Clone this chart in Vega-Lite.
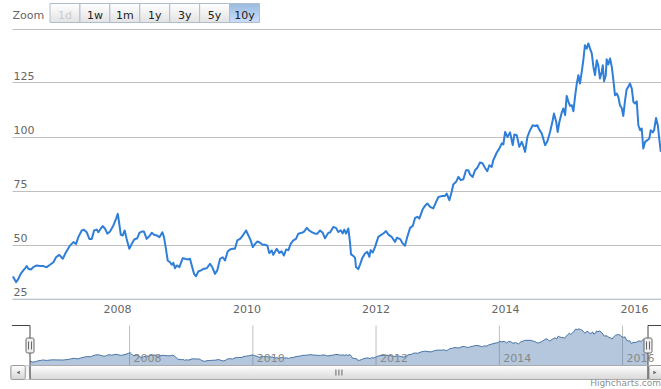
{
  "$schema": "https://vega.github.io/schema/vega-lite/v6.json",
  "width": 661,
  "height": 389,
  "autosize": {"type": "none"},
  "padding": 0,
  "background": "#ffffff",
  "config": {"view": {"stroke": null}, "font": "DejaVu Sans"},
  "title": {"text": "Highcharts.com", "orient": "bottom", "anchor": "end", "frame": "group", "offset": -3, "fontSize": 9, "fontWeight": "normal", "color": "#909090", "baseline": "alphabetic", "dx": 0},
  "datasets": {
    "prices": [
      {"date":"2006-05-21","price":35.2},{"date":"2006-05-28","price":34.4},{"date":"2006-06-09","price":32.6},{"date":"2006-06-22","price":34.1},
      {"date":"2006-07-05","price":36.4},{"date":"2006-07-20","price":38},{"date":"2006-07-30","price":39},{"date":"2006-08-08","price":40},
      {"date":"2006-08-17","price":38.8},{"date":"2006-09-01","price":38.4},{"date":"2006-09-14","price":39.5},{"date":"2006-10-04","price":40.3},
      {"date":"2006-10-22","price":40},{"date":"2006-11-10","price":40},{"date":"2006-11-29","price":39.5},{"date":"2006-12-18","price":40.6},
      {"date":"2007-01-06","price":41.8},{"date":"2007-01-21","price":44.1},{"date":"2007-02-08","price":45.2},{"date":"2007-02-28","price":43.4},
      {"date":"2007-03-18","price":46.4},{"date":"2007-04-10","price":49.5},{"date":"2007-04-29","price":51.1},{"date":"2007-05-14","price":50.3},
      {"date":"2007-05-27","price":53.4},{"date":"2007-06-15","price":56.5},{"date":"2007-06-28","price":56.8},{"date":"2007-07-13","price":55.7},
      {"date":"2007-07-28","price":52.6},{"date":"2007-08-11","price":52.6},{"date":"2007-08-24","price":56.5},{"date":"2007-09-08","price":56.9},
      {"date":"2007-09-17","price":55.7},{"date":"2007-09-30","price":57.3},{"date":"2007-10-12","price":58.5},{"date":"2007-10-25","price":57.3},
      {"date":"2007-11-07","price":55},{"date":"2007-11-22","price":56},{"date":"2007-12-11","price":58.8},{"date":"2007-12-26","price":61.9},
      {"date":"2008-01-05","price":64.2},{"date":"2008-01-12","price":60.3},{"date":"2008-01-22","price":54.5},{"date":"2008-02-02","price":54.2},
      {"date":"2008-02-13","price":56.5},{"date":"2008-02-24","price":52.6},{"date":"2008-03-10","price":48},{"date":"2008-03-24","price":50.3},
      {"date":"2008-04-07","price":52.3},{"date":"2008-04-24","price":52.9},{"date":"2008-05-06","price":55.4},{"date":"2008-05-19","price":56},
      {"date":"2008-06-01","price":56},{"date":"2008-06-16","price":52.6},{"date":"2008-07-01","price":53.8},{"date":"2008-07-15","price":55.4},
      {"date":"2008-07-28","price":54.5},{"date":"2008-08-12","price":54.2},{"date":"2008-08-27","price":53.4},{"date":"2008-09-13","price":55.7},
      {"date":"2008-09-22","price":53.4},{"date":"2008-10-03","price":48},{"date":"2008-10-13","price":42.6},{"date":"2008-10-26","price":41.8},
      {"date":"2008-11-05","price":40.6},{"date":"2008-11-14","price":41.5},{"date":"2008-11-23","price":39},{"date":"2008-12-03","price":40.3},
      {"date":"2008-12-18","price":39.5},{"date":"2009-01-06","price":43.7},{"date":"2009-01-19","price":43.4},{"date":"2009-02-01","price":43.1},
      {"date":"2009-02-16","price":43.4},{"date":"2009-02-26","price":40.3},{"date":"2009-03-11","price":36.4},{"date":"2009-03-22","price":35.3},
      {"date":"2009-04-04","price":37.5},{"date":"2009-04-19","price":38},{"date":"2009-05-06","price":38.8},{"date":"2009-05-22","price":39},
      {"date":"2009-06-09","price":41.1},{"date":"2009-06-22","price":39.5},{"date":"2009-07-07","price":36.4},{"date":"2009-07-20","price":38},
      {"date":"2009-08-05","price":43.4},{"date":"2009-08-20","price":44.1},{"date":"2009-09-02","price":42.6},{"date":"2009-09-17","price":46.8},
      {"date":"2009-09-30","price":47.7},{"date":"2009-10-15","price":48},{"date":"2009-10-28","price":48},{"date":"2009-11-10","price":51.9},
      {"date":"2009-11-26","price":52.6},{"date":"2009-12-14","price":54.5},{"date":"2009-12-30","price":56.5},{"date":"2010-01-12","price":54.2},
      {"date":"2010-01-25","price":51.9},{"date":"2010-02-06","price":48.8},{"date":"2010-02-19","price":50.3},{"date":"2010-03-04","price":51.4},
      {"date":"2010-03-19","price":50.8},{"date":"2010-04-03","price":49.9},{"date":"2010-04-16","price":49.9},{"date":"2010-04-29","price":49.5},
      {"date":"2010-05-10","price":46.1},{"date":"2010-05-24","price":47.2},{"date":"2010-06-02","price":45.2},{"date":"2010-06-21","price":48},
      {"date":"2010-07-06","price":46.1},{"date":"2010-07-19","price":46.8},{"date":"2010-08-01","price":44.9},{"date":"2010-08-13","price":47.7},
      {"date":"2010-08-26","price":47.4},{"date":"2010-09-08","price":50.3},{"date":"2010-09-23","price":51.9},{"date":"2010-10-08","price":52.6},
      {"date":"2010-10-21","price":55},{"date":"2010-11-10","price":55.4},{"date":"2010-11-23","price":56},{"date":"2010-12-08","price":57.7},
      {"date":"2010-12-22","price":56.5},{"date":"2011-01-05","price":55.7},{"date":"2011-01-24","price":55},{"date":"2011-02-06","price":55},
      {"date":"2011-02-21","price":56.5},{"date":"2011-03-08","price":55.4},{"date":"2011-03-21","price":52.9},{"date":"2011-04-09","price":55.4},
      {"date":"2011-04-18","price":55.5},{"date":"2011-05-07","price":58.1},{"date":"2011-05-22","price":57.7},{"date":"2011-06-04","price":55.8},
      {"date":"2011-06-18","price":56.6},{"date":"2011-06-29","price":55.1},{"date":"2011-07-08","price":56.9},{"date":"2011-07-18","price":55.1},
      {"date":"2011-07-31","price":57.4},{"date":"2011-08-09","price":51.2},{"date":"2011-08-15","price":45.4},{"date":"2011-08-28","price":44.7},
      {"date":"2011-09-07","price":43.8},{"date":"2011-09-12","price":39.6},{"date":"2011-09-25","price":38.6},{"date":"2011-10-05","price":40.7},
      {"date":"2011-10-18","price":43.8},{"date":"2011-11-02","price":45.8},{"date":"2011-11-15","price":46.6},{"date":"2011-11-27","price":44.3},
      {"date":"2011-12-04","price":47.4},{"date":"2011-12-16","price":46.3},{"date":"2011-12-29","price":48.9},{"date":"2012-01-16","price":53.5},
      {"date":"2012-01-30","price":54.3},{"date":"2012-02-14","price":55.1},{"date":"2012-02-29","price":56.2},{"date":"2012-03-13","price":54.6},
      {"date":"2012-04-01","price":53.5},{"date":"2012-04-20","price":51.2},{"date":"2012-04-30","price":53.1},{"date":"2012-05-19","price":52.5},
      {"date":"2012-06-02","price":50.5},{"date":"2012-06-15","price":49.4},{"date":"2012-06-28","price":53.5},{"date":"2012-07-14","price":57.7},
      {"date":"2012-07-29","price":58.6},{"date":"2012-08-11","price":62.3},{"date":"2012-08-24","price":62.8},{"date":"2012-09-04","price":62},
      {"date":"2012-09-23","price":66.3},{"date":"2012-10-06","price":67.9},{"date":"2012-10-19","price":69},{"date":"2012-11-04","price":67.4},
      {"date":"2012-11-22","price":66.7},{"date":"2012-12-08","price":69.7},{"date":"2012-12-21","price":72},{"date":"2013-01-09","price":72.4},
      {"date":"2013-01-27","price":72.5},{"date":"2013-02-06","price":73.6},{"date":"2013-02-21","price":70.5},{"date":"2013-03-06","price":74.4},
      {"date":"2013-03-15","price":77.8},{"date":"2013-03-31","price":79},{"date":"2013-04-13","price":81.3},{"date":"2013-04-26","price":79.8},
      {"date":"2013-05-11","price":80.2},{"date":"2013-05-26","price":84.4},{"date":"2013-06-08","price":84.4},{"date":"2013-06-18","price":82.4},
      {"date":"2013-07-03","price":81.3},{"date":"2013-07-16","price":84.4},{"date":"2013-07-29","price":85.5},{"date":"2013-08-13","price":88},
      {"date":"2013-08-28","price":87.5},{"date":"2013-09-10","price":85.5},{"date":"2013-09-23","price":83.9},{"date":"2013-10-05","price":86.7},
      {"date":"2013-10-18","price":85.9},{"date":"2013-10-27","price":89},{"date":"2013-11-16","price":92.6},{"date":"2013-11-30","price":94.4},
      {"date":"2013-12-14","price":96.8},{"date":"2013-12-23","price":96.3},{"date":"2014-01-02","price":102.1},{"date":"2014-01-15","price":99.8},
      {"date":"2014-01-30","price":101.9},{"date":"2014-02-14","price":96},{"date":"2014-02-23","price":100.9},{"date":"2014-03-09","price":100.6},
      {"date":"2014-03-23","price":95.2},{"date":"2014-04-06","price":97.5},{"date":"2014-04-15","price":95.6},{"date":"2014-04-25","price":92.9},
      {"date":"2014-05-08","price":99.8},{"date":"2014-05-23","price":102.9},{"date":"2014-06-07","price":105.2},{"date":"2014-06-20","price":104.9},
      {"date":"2014-07-03","price":105.2},{"date":"2014-07-14","price":103.2},{"date":"2014-07-28","price":101.4},{"date":"2014-08-16","price":96},
      {"date":"2014-08-29","price":97.8},{"date":"2014-09-13","price":102.1},{"date":"2014-09-28","price":107.5},{"date":"2014-10-05","price":110.6},
      {"date":"2014-10-17","price":107.1},{"date":"2014-10-26","price":102.1},{"date":"2014-11-04","price":106.5},{"date":"2014-11-18","price":111.1},
      {"date":"2014-11-27","price":113},{"date":"2014-12-07","price":109.9},{"date":"2014-12-16","price":118.8},{"date":"2014-12-25","price":116.3},
      {"date":"2015-01-04","price":114.2},{"date":"2015-01-14","price":114.5},{"date":"2015-01-23","price":111.7},{"date":"2015-02-01","price":118.3},
      {"date":"2015-02-11","price":124.5},{"date":"2015-02-20","price":128.4},{"date":"2015-03-01","price":124.5},{"date":"2015-03-11","price":129.9},
      {"date":"2015-03-20","price":135.3},{"date":"2015-03-29","price":142.3},{"date":"2015-04-08","price":140.7},{"date":"2015-04-17","price":143.1},
      {"date":"2015-04-27","price":140.7},{"date":"2015-05-07","price":138.4},{"date":"2015-05-16","price":132.2},{"date":"2015-05-25","price":128.4},
      {"date":"2015-06-04","price":135.3},{"date":"2015-06-13","price":132.7},{"date":"2015-06-22","price":126.9},{"date":"2015-07-02","price":129.9},
      {"date":"2015-07-08","price":133},{"date":"2015-07-15","price":125.6},{"date":"2015-07-25","price":128.4},{"date":"2015-07-30","price":135.8},
      {"date":"2015-08-08","price":133.3},{"date":"2015-08-18","price":136.1},{"date":"2015-08-28","price":132.2},{"date":"2015-09-06","price":126},
      {"date":"2015-09-15","price":119.1},{"date":"2015-09-25","price":119.9},{"date":"2015-10-04","price":118.3},{"date":"2015-10-13","price":114.5},
      {"date":"2015-10-23","price":113.2},{"date":"2015-11-01","price":109.5},{"date":"2015-11-11","price":116.8},{"date":"2015-11-20","price":121.9},
      {"date":"2015-11-29","price":123},{"date":"2015-12-09","price":124.5},{"date":"2015-12-19","price":122.2},{"date":"2015-12-28","price":116},
      {"date":"2016-01-06","price":115.3},{"date":"2016-01-16","price":116.3},{"date":"2016-01-25","price":105.2},{"date":"2016-02-04","price":102.9},
      {"date":"2016-02-13","price":103.7},{"date":"2016-02-22","price":94.4},{"date":"2016-03-03","price":97.5},{"date":"2016-03-16","price":98.3},
      {"date":"2016-03-27","price":99.1},{"date":"2016-04-04","price":102.9},{"date":"2016-04-15","price":101.9},{"date":"2016-04-23","price":102.9},
      {"date":"2016-05-04","price":108.6},{"date":"2016-05-14","price":105.2},{"date":"2016-05-23","price":98.3},{"date":"2016-05-31","price":92.9}
    ],
    "buttons": [
      {"label":"1d"},{"label":"1w"},{"label":"1m"},{"label":"1y"},{"label":"3y"},{"label":"5y"},{"label":"10y"}
    ],
    "navTicks": [
      {"tick":"2008-01-01"},{"tick":"2010-01-01"},{"tick":"2012-01-01"},{"tick":"2014-01-01"},{"tick":"2016-01-01"}
    ]
  },
  "resolve": {"scale": {"x": "independent", "y": "independent"}},
  "layer": [
    {
      "data": {"name": "prices"},
      "mark": {"type": "line", "color": "#2f7ed8", "strokeWidth": 2, "strokeJoin": "round"},
      "encoding": {
        "x": {"field": "date", "type": "temporal",
          "scale": {"type": "utc", "domain": [{"year":2006,"month":5,"date":17,"utc":true},{"year":2016,"month":6,"date":1,"utc":true}], "range": [12, 661]},
          "axis": {"values": [{"year":2008,"utc":true},{"year":2010,"utc":true},{"year":2012,"utc":true},{"year":2014,"utc":true},{"year":2016,"utc":true}],
            "format": "%Y", "title": null, "grid": false, "ticks": false, "tickSize": 0, "domainColor": "#C0D0E0", "domainWidth": 1,
            "labelColor": "#666666", "labelFontSize": 11, "labelPadding": 5, "labelBaseline": "top", "offset": -90.5, "labelFlush": false, "labelOverlap": false}},
        "y": {"field": "price", "type": "quantitative",
          "scale": {"domain": [25, 150], "range": [298.5, 28.5], "nice": false, "zero": false},
          "axis": {"values": [25, 50, 75, 100, 125, 150], "title": null, "domain": false, "ticks": false, "tickSize": 0,
            "grid": true, "gridColor": "#C0C0C0", "gridWidth": 1,
            "labelAlign": "left", "labelPadding": -13, "labelBaseline": "alphabetic", "labelOffset": -3,
            "labelColor": "#666666", "labelFontSize": 11, "labelFlush": false, "labelOverlap": false,
            "labelExpr": "datum.value >= 150 ? '' : datum.label"}}
      }
    },
    {
      "resolve": {"scale": {"y": "independent"}},
      "layer": [
        {
          "layer": [
            {
              "data": {"name": "navTicks"},
              "mark": {"type": "rule", "color": "#C0C0C0", "strokeWidth": 1},
              "encoding": {
                "x": {"field": "tick", "type": "temporal", "axis": null,
                  "scale": {"type": "utc", "domain": [{"year":2006,"month":5,"date":21,"utc":true},{"year":2016,"month":5,"date":31,"utc":true}], "range": [30, 648]}},
                "y": {"datum": 154.2, "type": "quantitative", "scale": {"domain": [21.5, 154.2], "range": [365.5, 325.5], "nice": false, "zero": false}, "axis": null},
                "y2": {"datum": 21.5}
              }
            },
            {
              "data": {"name": "prices"},
              "mark": {"type": "area", "fill": "#4572A7", "fillOpacity": 0.4, "stroke": null},
              "encoding": {
                "x": {"field": "date", "type": "temporal", "axis": null,
                  "scale": {"type": "utc", "domain": [{"year":2006,"month":5,"date":21,"utc":true},{"year":2016,"month":5,"date":31,"utc":true}], "range": [30, 648]}},
                "y": {"field": "price", "type": "quantitative", "scale": {"domain": [21.5, 154.2], "range": [365.5, 325.5], "nice": false, "zero": false}, "axis": null},
                "y2": {"datum": 21.5}
              }
            },
            {
              "data": {"name": "prices"},
              "mark": {"type": "line", "color": "#4572A7", "strokeWidth": 1},
              "encoding": {
                "x": {"field": "date", "type": "temporal", "axis": null,
                  "scale": {"type": "utc", "domain": [{"year":2006,"month":5,"date":21,"utc":true},{"year":2016,"month":5,"date":31,"utc":true}], "range": [30, 648]}},
                "y": {"field": "price", "type": "quantitative", "scale": {"domain": [21.5, 154.2], "range": [365.5, 325.5], "nice": false, "zero": false}, "axis": null}
              }
            },
            {
              "data": {"name": "navTicks"},
              "mark": {"type": "text", "align": "left", "baseline": "alphabetic", "dx": 4, "dy": -4, "fontSize": 11, "color": "#888888"},
              "encoding": {
                "x": {"field": "tick", "type": "temporal", "axis": null,
                  "scale": {"type": "utc", "domain": [{"year":2006,"month":5,"date":21,"utc":true},{"year":2016,"month":5,"date":31,"utc":true}], "range": [30, 648]}},
                "y": {"datum": 21.5, "type": "quantitative", "scale": {"domain": [21.5, 154.2], "range": [365.5, 325.5], "nice": false, "zero": false}, "axis": null},
                "text": {"field": "tick", "type": "temporal", "timeUnit": "utcyear"}
              }
            },
            {
              "data": {"values": [{}]},
              "mark": {"type": "rule", "color": "#444444", "strokeWidth": 1},
              "encoding": {
                "x": {"datum": {"year":2006,"month":2,"date":3,"utc":true}, "type": "temporal", "axis": null,
                  "scale": {"type": "utc", "domain": [{"year":2006,"month":5,"date":21,"utc":true},{"year":2016,"month":5,"date":31,"utc":true}], "range": [30, 648]}},
                "x2": {"datum": {"year":2006,"month":5,"date":21,"utc":true}},
                "y": {"datum": 154.2, "type": "quantitative", "scale": {"domain": [21.5, 154.2], "range": [365.5, 325.5], "nice": false, "zero": false}, "axis": null}
              }
            },
            {
              "data": {"values": [{}]},
              "mark": {"type": "rule", "color": "#444444", "strokeWidth": 1},
              "encoding": {
                "x": {"datum": {"year":2016,"month":5,"date":31,"utc":true}, "type": "temporal", "axis": null,
                  "scale": {"type": "utc", "domain": [{"year":2006,"month":5,"date":21,"utc":true},{"year":2016,"month":5,"date":31,"utc":true}], "range": [30, 648]}},
                "x2": {"datum": {"year":2016,"month":10,"date":31,"utc":true}},
                "y": {"datum": 154.2, "type": "quantitative", "scale": {"domain": [21.5, 154.2], "range": [365.5, 325.5], "nice": false, "zero": false}, "axis": null}
              }
            },
            {
              "data": {"values": [{}]},
              "mark": {"type": "rule", "color": "#444444", "strokeWidth": 1},
              "encoding": {
                "x": {"datum": {"year":2006,"month":5,"date":21,"utc":true}, "type": "temporal", "axis": null,
                  "scale": {"type": "utc", "domain": [{"year":2006,"month":5,"date":21,"utc":true},{"year":2016,"month":5,"date":31,"utc":true}], "range": [30, 648]}},
                "y": {"datum": 154.2, "type": "quantitative", "scale": {"domain": [21.5, 154.2], "range": [365.5, 325.5], "nice": false, "zero": false}, "axis": null},
                "y2": {"datum": 21.5}
              }
            },
            {
              "data": {"values": [{}]},
              "mark": {"type": "rule", "color": "#444444", "strokeWidth": 1},
              "encoding": {
                "x": {"datum": {"year":2016,"month":5,"date":31,"utc":true}, "type": "temporal", "axis": null,
                  "scale": {"type": "utc", "domain": [{"year":2006,"month":5,"date":21,"utc":true},{"year":2016,"month":5,"date":31,"utc":true}], "range": [30, 648]}},
                "y": {"datum": 154.2, "type": "quantitative", "scale": {"domain": [21.5, 154.2], "range": [365.5, 325.5], "nice": false, "zero": false}, "axis": null},
                "y2": {"datum": 21.5}
              }
            },
            {
              "data": {"values": [{"edge": "start"}]},
              "mark": {"type": "point", "filled": true, "fill": "#eeeeee", "stroke": "#666666", "strokeWidth": 1, "opacity": 1, "size": 64,
                "shape": "M -0.6 -1.875 L 0.6 -1.875 Q 1 -1.875 1 -1.475 L 1 1.475 Q 1 1.875 0.6 1.875 L -0.6 1.875 Q -1 1.875 -1 1.475 L -1 -1.475 Q -1 -1.875 -0.6 -1.875 Z"},
              "encoding": {
                "x": {"datum": {"year":2006,"month":5,"date":21,"utc":true}, "type": "temporal", "axis": null,
                  "scale": {"type": "utc", "domain": [{"year":2006,"month":5,"date":21,"utc":true},{"year":2016,"month":5,"date":31,"utc":true}], "range": [30, 648]}},
                "y": {"datum": 87.85, "type": "quantitative", "scale": {"domain": [21.5, 154.2], "range": [365.5, 325.5], "nice": false, "zero": false}, "axis": null}
              }
            },
            {
              "data": {"values": [{"edge": "end"}]},
              "mark": {"type": "point", "filled": true, "fill": "#eeeeee", "stroke": "#666666", "strokeWidth": 1, "opacity": 1, "size": 64,
                "shape": "M -0.6 -1.875 L 0.6 -1.875 Q 1 -1.875 1 -1.475 L 1 1.475 Q 1 1.875 0.6 1.875 L -0.6 1.875 Q -1 1.875 -1 1.475 L -1 -1.475 Q -1 -1.875 -0.6 -1.875 Z"},
              "encoding": {
                "x": {"datum": {"year":2016,"month":5,"date":31,"utc":true}, "type": "temporal", "axis": null,
                  "scale": {"type": "utc", "domain": [{"year":2006,"month":5,"date":21,"utc":true},{"year":2016,"month":5,"date":31,"utc":true}], "range": [30, 648]}},
                "y": {"datum": 87.85, "type": "quantitative", "scale": {"domain": [21.5, 154.2], "range": [365.5, 325.5], "nice": false, "zero": false}, "axis": null}
              }
            },
            {
              "data": {"values": [{"edge": "start"}]},
              "mark": {"type": "point", "filled": false, "stroke": "#666666", "strokeWidth": 1, "opacity": 1, "size": 64,
                "shape": "M -0.375 -1 L -0.375 1 M 0.375 -1 L 0.375 1"},
              "encoding": {
                "x": {"datum": {"year":2006,"month":5,"date":21,"utc":true}, "type": "temporal", "axis": null,
                  "scale": {"type": "utc", "domain": [{"year":2006,"month":5,"date":21,"utc":true},{"year":2016,"month":5,"date":31,"utc":true}], "range": [30, 648]}},
                "y": {"datum": 87.85, "type": "quantitative", "scale": {"domain": [21.5, 154.2], "range": [365.5, 325.5], "nice": false, "zero": false}, "axis": null}
              }
            },
            {
              "data": {"values": [{"edge": "end"}]},
              "mark": {"type": "point", "filled": false, "stroke": "#666666", "strokeWidth": 1, "opacity": 1, "size": 64,
                "shape": "M -0.375 -1 L -0.375 1 M 0.375 -1 L 0.375 1"},
              "encoding": {
                "x": {"datum": {"year":2016,"month":5,"date":31,"utc":true}, "type": "temporal", "axis": null,
                  "scale": {"type": "utc", "domain": [{"year":2006,"month":5,"date":21,"utc":true},{"year":2016,"month":5,"date":31,"utc":true}], "range": [30, 648]}},
                "y": {"datum": 87.85, "type": "quantitative", "scale": {"domain": [21.5, 154.2], "range": [365.5, 325.5], "nice": false, "zero": false}, "axis": null}
              }
            }
          ]
        },
        {
          "layer": [
            {
              "data": {"values": [{"part": "track"}]},
              "mark": {"type": "rect", "stroke": "#cccccc", "strokeWidth": 1,
                "fill": {"gradient": "linear", "x1": 0, "y1": 0, "x2": 0, "y2": 1, "stops": [{"offset": 0, "color": "#eeeeee"}, {"offset": 1, "color": "#ffffff"}]}},
              "encoding": {
                "x": {"datum": {"year":2006,"month":1,"date":28,"utc":true}, "type": "temporal", "axis": null,
                  "scale": {"type": "utc", "domain": [{"year":2006,"month":5,"date":21,"utc":true},{"year":2016,"month":5,"date":31,"utc":true}], "range": [30, 648]}},
                "x2": {"datum": {"year":2016,"month":10,"date":31,"utc":true}},
                "y": {"datum": 0, "type": "quantitative", "scale": {"domain": [0, 1], "range": [379.5, 365.5], "nice": false, "zero": false}, "axis": null},
                "y2": {"datum": 1}
              }
            },
            {
              "data": {"values": [{"part": "left button"}]},
              "mark": {"type": "rect", "stroke": "#999999", "strokeWidth": 1, "cornerRadius": 2,
                "fill": {"gradient": "linear", "x1": 0, "y1": 0, "x2": 0, "y2": 1, "stops": [{"offset": 0, "color": "#ffffff"}, {"offset": 1, "color": "#d4d4d4"}]}},
              "encoding": {
                "x": {"datum": {"year":2006,"month":1,"date":28,"utc":true}, "type": "temporal", "axis": null,
                  "scale": {"type": "utc", "domain": [{"year":2006,"month":5,"date":21,"utc":true},{"year":2016,"month":5,"date":31,"utc":true}], "range": [30, 648]}},
                "x2": {"datum": {"year":2006,"month":4,"date":23,"utc":true}},
                "y": {"datum": 0, "type": "quantitative", "scale": {"domain": [0, 1], "range": [379.5, 365.5], "nice": false, "zero": false}, "axis": null},
                "y2": {"datum": 1}
              }
            },
            {
              "data": {"values": [{"part": "right button"}]},
              "mark": {"type": "rect", "stroke": "#999999", "strokeWidth": 1, "cornerRadius": 2,
                "fill": {"gradient": "linear", "x1": 0, "y1": 0, "x2": 0, "y2": 1, "stops": [{"offset": 0, "color": "#ffffff"}, {"offset": 1, "color": "#d4d4d4"}]}},
              "encoding": {
                "x": {"datum": {"year":2016,"month":6,"date":6,"utc":true}, "type": "temporal", "axis": null,
                  "scale": {"type": "utc", "domain": [{"year":2006,"month":5,"date":21,"utc":true},{"year":2016,"month":5,"date":31,"utc":true}], "range": [30, 648]}},
                "x2": {"datum": {"year":2016,"month":8,"date":28,"utc":true}},
                "y": {"datum": 0, "type": "quantitative", "scale": {"domain": [0, 1], "range": [379.5, 365.5], "nice": false, "zero": false}, "axis": null},
                "y2": {"datum": 1}
              }
            },
            {
              "data": {"values": [{"part": "thumb"}]},
              "mark": {"type": "rect", "stroke": "#aaaaaa", "strokeWidth": 1, "cornerRadius": 2,
                "fill": {"gradient": "linear", "x1": 0, "y1": 0, "x2": 0, "y2": 1, "stops": [{"offset": 0, "color": "#ffffff"}, {"offset": 1, "color": "#d8d8d8"}]}},
              "encoding": {
                "x": {"datum": {"year":2006,"month":5,"date":21,"utc":true}, "type": "temporal", "axis": null,
                  "scale": {"type": "utc", "domain": [{"year":2006,"month":5,"date":21,"utc":true},{"year":2016,"month":5,"date":31,"utc":true}], "range": [30, 648]}},
                "x2": {"datum": {"year":2016,"month":5,"date":31,"utc":true}},
                "y": {"datum": 0, "type": "quantitative", "scale": {"domain": [0, 1], "range": [379.5, 365.5], "nice": false, "zero": false}, "axis": null},
                "y2": {"datum": 1}
              }
            },
            {
              "data": {"values": [{"part": "outline"}]},
              "mark": {"type": "rule", "color": "#444444", "strokeWidth": 1},
              "encoding": {
                "x": {"datum": {"year":2006,"month":5,"date":21,"utc":true}, "type": "temporal", "axis": null,
                  "scale": {"type": "utc", "domain": [{"year":2006,"month":5,"date":21,"utc":true},{"year":2016,"month":5,"date":31,"utc":true}], "range": [30, 648]}},
                "y": {"datum": 0, "type": "quantitative", "scale": {"domain": [0, 1], "range": [379.5, 365.5], "nice": false, "zero": false}, "axis": null},
                "y2": {"datum": 1}
              }
            },
            {
              "data": {"values": [{"part": "outline"}]},
              "mark": {"type": "rule", "color": "#444444", "strokeWidth": 1},
              "encoding": {
                "x": {"datum": {"year":2016,"month":5,"date":31,"utc":true}, "type": "temporal", "axis": null,
                  "scale": {"type": "utc", "domain": [{"year":2006,"month":5,"date":21,"utc":true},{"year":2016,"month":5,"date":31,"utc":true}], "range": [30, 648]}},
                "y": {"datum": 0, "type": "quantitative", "scale": {"domain": [0, 1], "range": [379.5, 365.5], "nice": false, "zero": false}, "axis": null},
                "y2": {"datum": 1}
              }
            },
            {
              "data": {"values": [{"part": "left arrow"}]},
              "mark": {"type": "point", "shape": "triangle-left", "filled": true, "color": "#666666", "opacity": 1, "size": 14},
              "encoding": {
                "x": {"datum": {"year":2006,"month":3,"date":12,"utc":true}, "type": "temporal", "axis": null,
                  "scale": {"type": "utc", "domain": [{"year":2006,"month":5,"date":21,"utc":true},{"year":2016,"month":5,"date":31,"utc":true}], "range": [30, 648]}},
                "y": {"datum": 0.5, "type": "quantitative", "scale": {"domain": [0, 1], "range": [379.5, 365.5], "nice": false, "zero": false}, "axis": null}
              }
            },
            {
              "data": {"values": [{"part": "right arrow"}]},
              "mark": {"type": "point", "shape": "triangle-right", "filled": true, "color": "#666666", "opacity": 1, "size": 14},
              "encoding": {
                "x": {"datum": {"year":2016,"month":7,"date":11,"utc":true}, "type": "temporal", "axis": null,
                  "scale": {"type": "utc", "domain": [{"year":2006,"month":5,"date":21,"utc":true},{"year":2016,"month":5,"date":31,"utc":true}], "range": [30, 648]}},
                "y": {"datum": 0.5, "type": "quantitative", "scale": {"domain": [0, 1], "range": [379.5, 365.5], "nice": false, "zero": false}, "axis": null}
              }
            },
            {
              "data": {"values": [{"part": "rifle"}]},
              "mark": {"type": "point", "shape": "M -1 -1 L -1 1 M 0 -1 L 0 1 M 1 -1 L 1 1", "filled": false, "stroke": "#666666", "strokeWidth": 1, "opacity": 1, "size": 36},
              "encoding": {
                "x": {"datum": {"year":2011,"month":5,"date":26,"utc":true}, "type": "temporal", "axis": null,
                  "scale": {"type": "utc", "domain": [{"year":2006,"month":5,"date":21,"utc":true},{"year":2016,"month":5,"date":31,"utc":true}], "range": [30, 648]}},
                "y": {"datum": 0.5, "type": "quantitative", "scale": {"domain": [0, 1], "range": [379.5, 365.5], "nice": false, "zero": false}, "axis": null}
              }
            }
          ]
        }
      ]
    },
    {
      "layer": [
        {
          "data": {"name": "buttons"},
          "transform": [{"filter": "datum.label !== '10y'"}],
          "mark": {"type": "rect", "stroke": "#AEBECE", "strokeWidth": 1,
            "fill": {"gradient": "linear", "x1": 0, "y1": 0, "x2": 0, "y2": 1, "stops": [{"offset": 0, "color": "#ffffff"}, {"offset": 1, "color": "#e2e2e2"}]}},
          "encoding": {
            "x": {"field": "label", "type": "nominal", "axis": null,
              "scale": {"type": "band", "domain": ["1d","1w","1m","1y","3y","5y","10y"], "range": [50, 259.5], "paddingInner": 0, "paddingOuter": 0}},
            "y": {"datum": 0, "type": "quantitative", "scale": {"domain": [0, 1], "range": [22.5, 3.5], "nice": false, "zero": false}, "axis": null},
            "y2": {"datum": 1}
          }
        },
        {
          "data": {"name": "buttons"},
          "transform": [{"filter": "datum.label === '10y'"}],
          "mark": {"type": "rect", "stroke": "#AEBECE", "strokeWidth": 1,
            "fill": {"gradient": "linear", "x1": 0, "y1": 0, "x2": 0, "y2": 1, "stops": [{"offset": 0, "color": "#99BBDD"}, {"offset": 1, "color": "#CCDDFF"}]}},
          "encoding": {
            "x": {"field": "label", "type": "nominal", "axis": null,
              "scale": {"type": "band", "domain": ["1d","1w","1m","1y","3y","5y","10y"], "range": [50, 259.5], "paddingInner": 0, "paddingOuter": 0}},
            "y": {"datum": 0, "type": "quantitative", "scale": {"domain": [0, 1], "range": [22.5, 3.5], "nice": false, "zero": false}, "axis": null},
            "y2": {"datum": 1}
          }
        },
        {
          "data": {"name": "buttons"},
          "mark": {"type": "text", "fontSize": 11, "baseline": "alphabetic", "align": "center"},
          "encoding": {
            "x": {"field": "label", "type": "nominal", "axis": null,
              "scale": {"type": "band", "domain": ["1d","1w","1m","1y","3y","5y","10y"], "range": [50, 259.5], "paddingInner": 0, "paddingOuter": 0}},
            "y": {"datum": 0.18, "type": "quantitative", "scale": {"domain": [0, 1], "range": [22.5, 3.5], "nice": false, "zero": false}, "axis": null},
            "text": {"field": "label"},
            "color": {"condition": {"test": "datum.label === '1d'", "value": "#cccccc"}, "value": "#222222"}
          }
        },
        {
          "data": {"values": [{"caption": "Zoom"}]},
          "mark": {"type": "text", "fontSize": 11, "baseline": "alphabetic", "align": "left", "dx": -37.5, "color": "#666666"},
          "encoding": {
            "x": {"datum": "1d", "type": "nominal", "bandPosition": 0, "axis": null,
              "scale": {"type": "band", "domain": ["1d","1w","1m","1y","3y","5y","10y"], "range": [50, 259.5], "paddingInner": 0, "paddingOuter": 0}},
            "y": {"datum": 0.18, "type": "quantitative", "scale": {"domain": [0, 1], "range": [22.5, 3.5], "nice": false, "zero": false}, "axis": null},
            "text": {"field": "caption"}
          }
        }
      ]
    }
  ]
}
